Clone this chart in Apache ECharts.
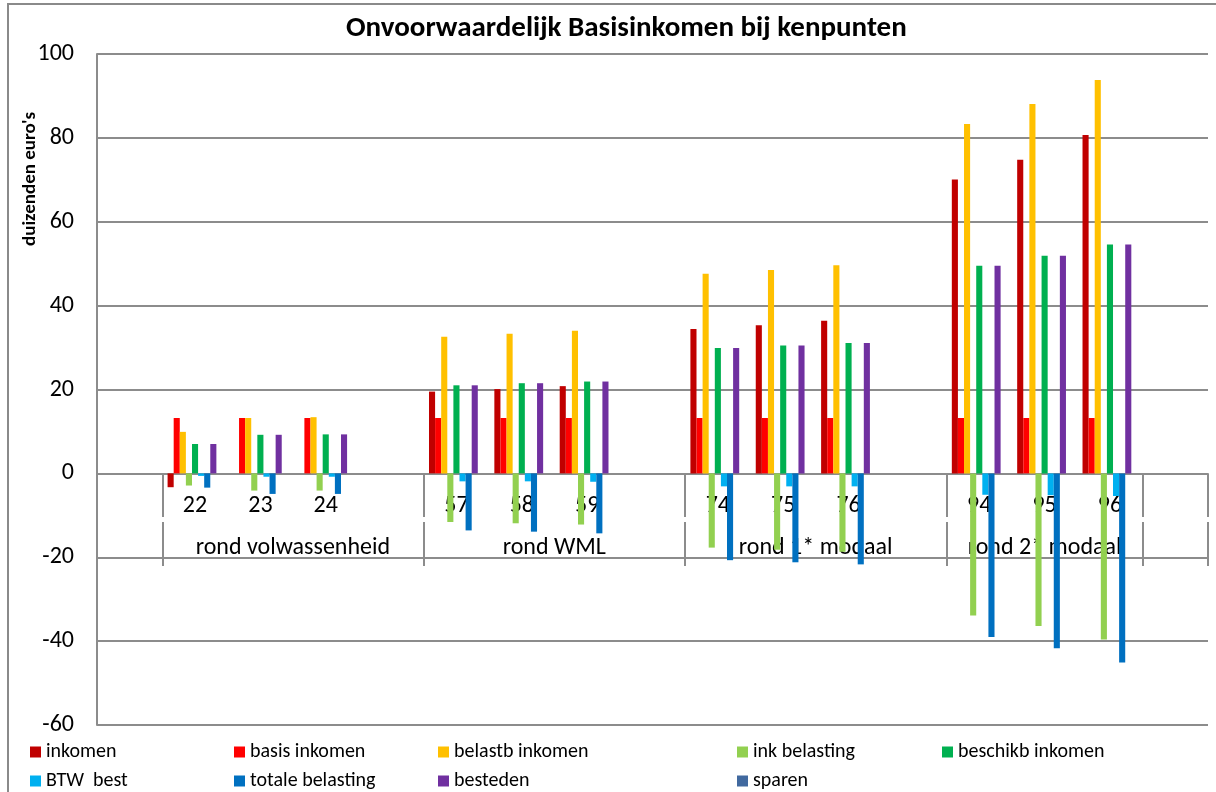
<!DOCTYPE html>
<html>
<head>
<meta charset="utf-8">
<title>Onvoorwaardelijk Basisinkomen bij kenpunten</title>
<script src="https://cdn.jsdelivr.net/npm/echarts@6/dist/echarts.min.js"></script>
<style>
	html, body { margin: 0; padding: 0; background: #fff; }
	#main { width: 1216px; height: 792px; }
</style>
</head>
<body>
<div id="main"></div>
<script>
var fontName = 'Carlito, Calibri, Lato, sans-serif';

// leeftijden (lege kolommen tussen de groepen zoals in Excel)
var leeftijden = ['', '22', '23', '24', '', '57', '58', '59', '', '74', '75', '76', '', '94', '95', '96', ''];
var groepen = ['rond volwassenheid', 'rond WML', 'rond 1* modaal', 'rond 2* modaal'];
var groepStart = [1, 5, 9, 13, 16];

var inkomen        = [null, -3.3, 0, 0, null, 19.5, 20.1, 20.8, null, 34.4, 35.3, 36.4, null, 70.1, 74.8, 80.7, null];
var basisInkomen   = [null, 13.2, 13.2, 13.2, null, 13.2, 13.2, 13.2, null, 13.2, 13.2, 13.2, null, 13.2, 13.2, 13.2, null];
var belastbInkomen = [null, 9.9, 13.2, 13.4, null, 32.6, 33.3, 34.0, null, 47.6, 48.5, 49.6, null, 83.3, 88.1, 93.8, null];
var inkBelasting   = [null, -2.9, -4.1, -4.1, null, -11.6, -11.9, -12.2, null, -17.7, -18.2, -18.7, null, -33.9, -36.4, -39.6, null];
var beschikbInkomen= [null, 7.0, 9.2, 9.3, null, 21.0, 21.5, 21.9, null, 29.9, 30.5, 31.1, null, 49.5, 51.9, 54.6, null];
var btwBest        = [null, -0.6, -0.8, -0.8, null, -1.9, -1.9, -2.0, null, -3.1, -3.1, -3.1, null, -5.1, -5.2, -5.4, null];
var totaleBelasting= [null, -3.4, -4.9, -4.9, null, -13.6, -13.9, -14.3, null, -20.7, -21.2, -21.7, null, -39.0, -41.7, -45.1, null];
var besteden       = [null, 7.0, 9.2, 9.3, null, 21.0, 21.5, 21.9, null, 29.9, 30.5, 31.1, null, 49.5, 51.9, 54.6, null];
var sparen         = [null, 0, 0, 0, null, 0, 0, 0, null, 0, 0, 0, null, 0, 0, 0, null];

var reeksen = [
	{ name: 'inkomen', data: inkomen, color: '#C00000' },
	{ name: 'basis inkomen', data: basisInkomen, color: '#FF0000' },
	{ name: 'belastb inkomen', data: belastbInkomen, color: '#FFC000' },
	{ name: 'ink belasting', data: inkBelasting, color: '#92D050' },
	{ name: 'beschikb inkomen', data: beschikbInkomen, color: '#00B050' },
	{ name: 'BTW  best', data: btwBest, color: '#00B0F0' },
	{ name: 'totale belasting', data: totaleBelasting, color: '#0070C0' },
	{ name: 'besteden', data: besteden, color: '#7030A0' },
	{ name: 'sparen', data: sparen, color: '#41699F' }
];

var grijs = '#8c8c8c';

//legenda kolommen
var legendaKolommen = [
	{ left: 30, data: ['inkomen', 'BTW  best'] },
	{ left: 234, data: ['basis inkomen', 'totale belasting'] },
	{ left: 438, data: ['belastb inkomen', 'besteden'] },
	{ left: 737, data: ['ink belasting', 'sparen'] },
	{ left: 942, data: ['beschikb inkomen'] }
];

var myChart = echarts.init(document.getElementById('main'));

function tickOpGroep(index) {
	return groepStart.indexOf(index) >= 0;
}

var series = [];
for (var i = 0; i < reeksen.length; i++) {
	series.push({
		type: 'bar',
		name: reeksen[i].name,
		data: reeksen[i].data,
		xAxisIndex: 0,
		barGap: 0,
		barCategoryGap: '16%',
		itemStyle: { color: reeksen[i].color },
		animation: false
	});
}

var legends = [];
for (var k = 0; k < legendaKolommen.length; k++) {
	legends.push({
		orient: 'vertical',
		left: legendaKolommen[k].left,
		top: 742,
		padding: 0,
		itemGap: 9,
		itemWidth: 11,
		itemHeight: 11,
		icon: 'rect',
		selectedMode: false,
		textStyle: { fontFamily: fontName, fontSize: 20, color: '#000' },
		data: legendaKolommen[k].data
	});
}

myChart.setOption({
	animation: false,
	title: {
		text: 'Onvoorwaardelijk Basisinkomen bij kenpunten',
		left: 341,
		top: 9,
		textStyle: { fontFamily: fontName, fontSize: 29, fontWeight: 'bold', color: '#000' }
	},
	legend: legends,
	grid: { left: 97, right: 8, top: 54, bottom: 67 },
	xAxis: [
		{
			// eerste niveau: leeftijd, lijn op de nul
			type: 'category',
			data: leeftijden,
			position: 'bottom',
			offset: -251,
			axisLine: { onZero: false, lineStyle: { color: grijs, width: 2 } },
			axisTick: { show: true, interval: tickOpGroep, length: 43, lineStyle: { color: grijs, width: 2 } },
			axisLabel: { interval: 0, margin: 20, fontFamily: fontName, fontSize: 24, color: '#000' },
			splitLine: { show: false }
		},
		{
			// tweede niveau: groepen
			type: 'category',
			data: leeftijden,
			position: 'bottom',
			offset: -203,
			axisLine: { show: false, onZero: false },
			axisTick: { show: true, interval: tickOpGroep, length: 44, lineStyle: { color: grijs, width: 2 } },
			axisLabel: {
				interval: 0,
				margin: 14,
				fontFamily: fontName,
				fontSize: 24,
				color: '#000',
				formatter: function (value, index) {
					if (index == 2) return '{s|' + groepen[0] + '}';
					if (index == 6) return '{s|' + groepen[1] + '}';
					if (index == 10) return '{s|' + groepen[2] + '}';
					if (index == 14) return groepen[3];
					return '';
				},
				rich: {
					s: { padding: [0, 0, 0, 65], fontFamily: fontName, fontSize: 24, color: '#000' }
				}
			},
			splitLine: { show: false }
		}
	],
	yAxis: {
		type: 'value',
		min: -60,
		max: 100,
		interval: 20,
		axisLine: { show: true, lineStyle: { color: grijs, width: 2 } },
		axisTick: { show: false },
		axisLabel: { margin: 23, fontFamily: fontName, fontSize: 24, color: '#000' },
		splitLine: { show: true, lineStyle: { color: grijs, width: 2 } }
	},
	graphic: [
		{
			type: 'rect',
			silent: true,
			shape: { x: 8, y: 4, width: 1230, height: 820 },
			style: { fill: null, stroke: '#8a8a8a', lineWidth: 2 }
		},
		{
			type: 'text',
			silent: true,
			x: 30,
			y: 179,
			rotation: Math.PI / 2,
			style: {
				text: "duizenden euro's",
				fontFamily: fontName,
				fontSize: 19,
				fontWeight: 'bold',
				fill: '#000',
				align: 'center',
				verticalAlign: 'middle'
			}
		}
	],
	series: series
});
</script>
</body>
</html>
